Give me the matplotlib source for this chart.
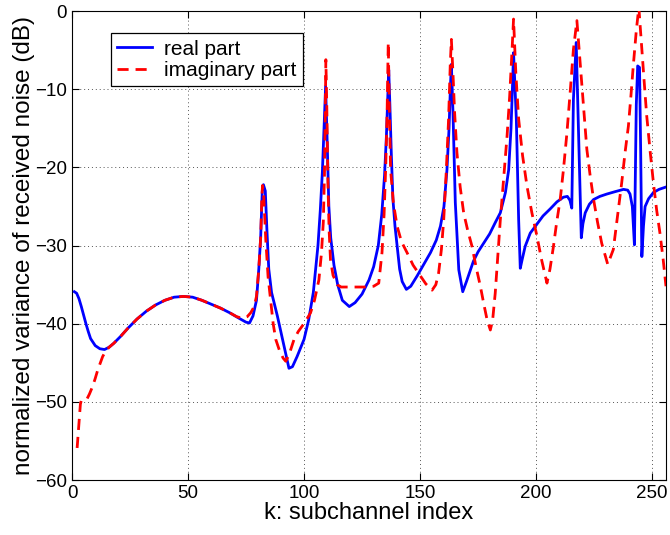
import matplotlib
matplotlib.use("Agg")
import matplotlib.pyplot as plt

# values (subchannel index k, dB)
k_real = [1, 2, 3, 4, 5, 6, 7, 8, 10, 12, 14, 16, 18, 21, 24, 28, 32, 36, 40, 44, 48, 52,
          56, 60, 64, 68, 72, 75, 76.5, 78, 79.5, 80.5, 81.3, 82, 82.5, 83.3, 84, 84.8, 86,
          88.5, 91.4, 93.5, 95, 97, 100, 102, 104, 105, 106, 107, 107.9, 108.5, 109.3, 110,
          110.7, 111.5, 112.9, 114.5, 116.5, 119.5, 122, 125, 128, 130, 132, 133.5, 134.7,
          135.5, 136.2, 136.5, 137, 137.6, 138.3, 139.2, 140.1, 141.2, 142.3, 144.1, 146,
          148.7, 151, 154.5, 157, 158.8, 160.3, 161.6, 162.5, 163.1, 163.5, 164.2, 165.2,
          166.7, 168.4, 170, 173, 175, 177.4, 180, 182.5, 184.6, 186.8, 188.2, 189.2, 189.8,
          190.3, 191.5, 192.5, 193.2, 194, 195.3, 197.5, 200, 203, 206.1, 209, 211.8, 213.5,
          214.6, 215.4, 216.1, 217.3, 218.3, 219.5, 220.2, 221.2, 223, 224.8, 227.5, 230.5,
          234, 237.7, 239.5, 240.5, 241.5, 242.4, 243.2, 243.8, 244.6, 245.1, 245.6, 246.3,
          247, 248.5, 250.6, 253, 256]
real_db = [-35.9, -36.1, -36.8, -37.8, -38.9, -40.0, -41.0, -41.9, -42.8, -43.2, -43.3, -43.0,
           -42.5, -41.6, -40.6, -39.4, -38.4, -37.6, -37.0, -36.6, -36.5, -36.6, -37.0, -37.5,
           -38.0, -38.6, -39.3, -39.8, -39.9, -39.0, -37.0, -33.0, -29.0, -23.0, -22.2, -23.0,
           -28.0, -33.0, -36.0, -39.0, -42.9, -45.7, -45.5, -44.2, -42.0, -39.5, -36.0, -33.0,
           -30.0, -25.5, -20.6, -16.0, -9.6, -17.0, -25.0, -29.0, -32.5, -35.0, -37.0, -37.8,
           -37.3, -36.2, -34.4, -32.7, -30.0, -26.0, -21.0, -16.0, -10.0, -7.5, -12.0, -18.1,
           -24.0, -27.5, -30.0, -33.0, -34.6, -35.6, -35.2, -33.9, -32.7, -30.9, -29.3, -27.5,
           -25.0, -20.3, -15.0, -9.6, -6.8, -13.0, -24.5, -33.1, -35.9, -34.6, -32.0, -30.8,
           -29.7, -28.5, -27.0, -25.8, -23.2, -20.3, -15.0, -10.0, -5.3, -13.8, -26.7, -32.9,
           -31.8, -30.1, -28.4, -27.4, -26.2, -25.3, -24.4, -23.8, -23.7, -24.2, -25.2, -11.3,
           -4.0, -15.6, -29.0, -27.2, -25.8, -24.7, -24.1, -23.7, -23.4, -23.1, -22.8, -22.9,
           -23.4, -25.0, -29.9, -12.0, -7.0, -7.2, -18.0, -31.4, -27.5, -25.0, -24.0, -23.2,
           -22.8, -22.5]

k_imag = [2.2, 2.7, 3.1, 3.6, 4, 5, 6.5, 7.5, 8.9, 10, 11.1, 12.2, 13.2, 14.5, 16, 18, 21,
          24, 28, 32, 36, 40, 44, 48, 52, 56, 60, 64, 68, 71, 73.5, 75.5, 77, 78.5, 79.5,
          80.5, 81.3, 81.8, 82.1, 82.6, 83.5, 84.5, 85.6, 86.7, 87.8, 89.5, 91, 92.1, 93.5,
          95.7, 97.5, 99.2, 101, 102.8, 104.5, 106.4, 107.5, 108.3, 108.8, 109.2, 109.4,
          109.8, 110.3, 110.8, 111.4, 112.5, 114.3, 116, 126.9, 130, 132.2, 133.6, 134.5,
          135.2, 135.8, 136.3, 136.8, 137.3, 138.5, 140.1, 142, 144.4, 147, 150.2, 152.5,
          155.2, 156.8, 158, 159.2, 160.2, 161.3, 162.3, 163, 163.5, 164.2, 164.9, 165.9,
          167.3, 168.8, 170.5, 172.4, 174.2, 176, 177.5, 178.9, 180.3, 181.3, 182.4, 183.5,
          184.6, 186, 187.5, 188.6, 189.6, 190.3, 191.3, 192.5, 194.2, 196.1, 198.2, 200.4,
          202.3, 204.7, 206, 207.5, 208.8, 210.4, 211.8, 213.3, 214.8, 216.1, 217.6, 218.6,
          219.7, 220.8, 221.9, 223.3, 224.8, 226.5, 228.3, 230.9, 233.3, 235, 236.9, 238.4,
          239.8, 240.9, 241.9, 243.2, 244.3, 245.6, 246.6, 247.7, 249.2, 250.6, 252, 253.4,
          254.8, 256]
imag_db = [-55.9, -54.0, -52.3, -50.3, -49.8, -49.7, -49.6, -49.0, -48.0, -47.0, -45.9, -45.0,
           -44.2, -43.5, -43.0, -42.5, -41.6, -40.6, -39.4, -38.4, -37.6, -37.0, -36.6, -36.5,
           -36.6, -37.0, -37.5, -38.0, -38.6, -39.1, -39.3, -39.1, -38.6, -37.8, -36.5, -33.0,
           -29.0, -24.0, -22.3, -23.5, -29.2, -34.0, -37.0, -40.0, -42.0, -43.5, -44.4, -44.8,
           -44.0, -42.0, -41.0, -40.3, -39.5, -38.6, -37.0, -34.4, -31.0, -27.0, -21.0, -12.0,
           -6.2, -12.0, -22.0, -28.0, -31.8, -33.8, -35.0, -35.3, -35.3, -35.2, -34.8, -30.9,
           -26.0, -20.0, -13.0, -4.0, -13.0, -20.3, -24.5, -27.5, -29.5, -30.9, -32.5, -33.9,
           -34.9, -35.7, -35.0, -33.5, -30.5, -26.7, -20.5, -13.8, -7.0, -3.6, -8.0, -13.0,
           -18.1, -22.5, -25.8, -28.0, -30.1, -32.8, -35.2, -37.5, -39.5, -40.8, -39.5, -36.1,
           -31.5, -26.7, -21.5, -16.0, -11.0, -5.3, -1.0, -8.0, -13.8, -18.5, -22.4, -25.8,
           -28.8, -31.7, -34.8, -33.0, -30.1, -27.2, -24.1, -20.3, -15.6, -10.0, -4.9, -1.2,
           -5.0, -9.1, -13.5, -17.7, -21.0, -24.1, -27.0, -29.7, -32.4, -30.5, -26.5, -22.0,
           -18.0, -14.7, -10.8, -7.0, -2.5, 0.5, -4.9, -9.0, -13.4, -18.0, -22.0, -25.5,
           -28.4, -31.8, -35.2]

plt.rcParams['font.family'] = ['Liberation Sans', 'DejaVu Sans']

fig = plt.figure(figsize=(6.7, 5.35), dpi=100)
ax = fig.add_axes([0.1075, 0.1028, 0.8865, 0.8762])

ax.plot(k_real, real_db, color='#0000ff', lw=2.0, label='real part', zorder=3,
        solid_joinstyle='round')
ax.plot(k_imag, imag_db, color='#ff0000', lw=2.0, linestyle=(0, (4, 2.5)),
        label='imaginary part', zorder=4, dash_joinstyle='round')

ax.set_xlim(0, 256)
ax.set_ylim(-60, 0)
ax.set_xticks([0, 50, 100, 150, 200, 250])
ax.set_yticks([-60, -50, -40, -30, -20, -10, 0])
ax.grid(True, linestyle=(0, (1, 3)), color='#555555', lw=0.7)
ax.tick_params(direction='in', top=True, right=True, labelsize=13.5, length=5, width=0.8)
for s in ax.spines.values():
    s.set_linewidth(0.8)

ax.set_xlabel('k: subchannel index', fontsize=17, labelpad=0)
ax.set_ylabel('normalized variance of received noise (dB)', fontsize=17.5, labelpad=0)

leg = ax.legend(loc='upper left', bbox_to_anchor=(0.0657, 0.953), borderaxespad=0,
                fontsize=15, fancybox=False, edgecolor='black', framealpha=1,
                handlelength=1.65, borderpad=0.3, labelspacing=0.12, handletextpad=0.6)
leg.get_frame().set_linewidth(0.9)

fig.savefig('out.png', dpi=100)
